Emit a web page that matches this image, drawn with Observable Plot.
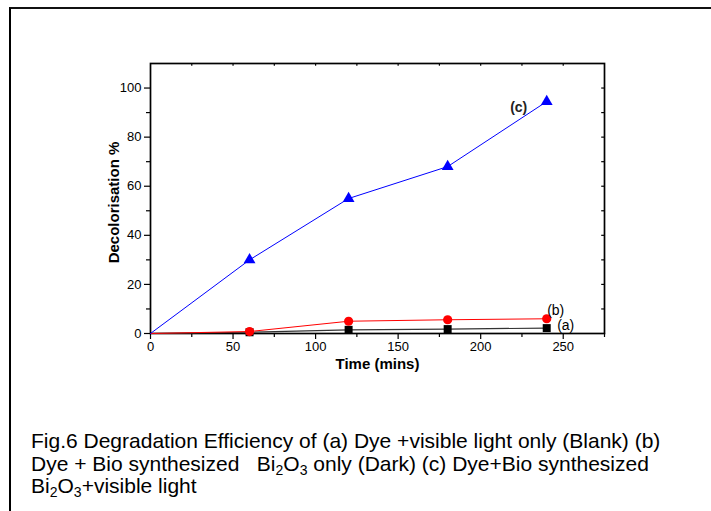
<!DOCTYPE html>
<html>
<head>
<meta charset="utf-8">
<script src="https://cdn.jsdelivr.net/npm/d3@7"></script>
<script src="https://cdn.jsdelivr.net/npm/@observablehq/plot@0.6"></script>
<style>
  html, body { margin: 0; padding: 0; background: #fff; }
  #wrap { position: relative; width: 711px; height: 511px; overflow: hidden; font-family: "Liberation Sans", Arial, sans-serif; }
  #border { position: absolute; left: 9px; top: 7px; width: 720px; height: 520px; border-left: 2px solid #000; border-top: 2px solid #111; }
  #caption { position: absolute; left: 31px; top: 430px; font-size: 21px; line-height: 22.5px; white-space: nowrap; color: #000; }
  #caption .s { font-size: 14px; vertical-align: -4px; line-height: 0; }
  #chart { position: absolute; left: 0; top: 0; }
</style>
</head>
<body>
<div id="wrap">
  <div id="chart"></div>
  <div id="border"></div>
  <div id="caption">Fig.6 Degradation Efficiency of (a) Dye +visible light only (Blank) (b)<br>Dye + Bio synthesized&nbsp;&nbsp; Bi<span class="s">2</span>O<span class="s">3</span> only (Dark) (c) Dye+Bio synthesized<br>Bi<span class="s">2</span>O<span class="s">3</span>+visible light</div>
</div>
<script>
const times = [0, 60, 120, 180, 240];
const seriesA = [0, 0.5, 1.5, 1.8, 2.2];   // (a) Dye + visible light only (Blank)
const seriesB = [0, 0.8, 5.0, 5.6, 6.0];   // (b) Dye + Bi2O3 only (Dark)
const seriesC = [0, 30, 55, 68, 94.5];     // (c) Dye + Bi2O3 + visible light
const seriesLabels = ["(a)", "(b)", "(c)"];
const xMajor = [0, 50, 100, 150, 200, 250];
const xMinor = [25, 75, 125, 175, 225, 275];
const yMajor = [0, 20, 40, 60, 80, 100];
const yMinor = [10, 30, 50, 70, 90];
const topTicks = [25, 50, 75, 100, 125, 150, 175, 200, 225, 250];
const rightTicks = [10, 20, 30, 40, 50, 60, 70, 80, 90, 100];

const A = times.map((t, i) => ({t, v: seriesA[i]}));
const B = times.map((t, i) => ({t, v: seriesB[i]}));
const C = times.map((t, i) => ({t, v: seriesC[i]}));
const notZero = d => d.t > 0;

const chart = Plot.plot({
  width: 711,
  height: 511,
  marginLeft: 150,
  marginRight: 107,
  marginTop: 63,
  marginBottom: 178,
  style: {fontFamily: "'Liberation Sans', Arial, sans-serif", background: "transparent", color: "#000"},
  x: {domain: [0, 275]},
  y: {domain: [0, 110]},
  marks: [
    Plot.axisX({ticks: xMajor, tickSize: 6, tickPadding: 2, fontSize: 13, label: null, stroke: "#000", strokeWidth: 1.2, fill: "#000"}),
    Plot.axisX({ticks: xMinor, tickSize: 4, text: null, label: null, stroke: "#000", strokeWidth: 1.2}),
    Plot.axisY({ticks: yMajor, tickSize: 6, tickPadding: 3, fontSize: 13, label: null, stroke: "#000", strokeWidth: 1.2, fill: "#000"}),
    Plot.axisY({ticks: yMinor, tickSize: 4, text: null, label: null, stroke: "#000", strokeWidth: 1.2}),
    Plot.ruleX(topTicks, {x: d => d, y1: 110, y2: 108.9, stroke: "#000", strokeWidth: 1.2}),
    Plot.ruleY(rightTicks, {y: d => d, x1: 275, x2: 273.3, stroke: "#000", strokeWidth: 1.2}),
    Plot.frame({stroke: "#000", strokeWidth: 1.7}),
    Plot.line(A, {x: "t", y: "v", stroke: "#333", strokeWidth: 1.2}),
    Plot.dot(A.filter(notZero), {x: "t", y: "v", symbol: "square", r: 4.5, fill: "#000", stroke: "none"}),
    Plot.line(B, {x: "t", y: "v", stroke: "#ff0000", strokeWidth: 1}),
    Plot.dot(B.filter(notZero), {x: "t", y: "v", symbol: "circle", r: 4.6, fill: "#ff0000", stroke: "none"}),
    Plot.line(C, {x: "t", y: "v", stroke: "#0000ff", strokeWidth: 1}),
    Plot.dot(C.filter(notZero), {x: "t", y: "v", symbol: "triangle", r: 4.4, fill: "#0000ff", stroke: "none"}),
    Plot.text([A[4]], {x: "t", y: "v", text: () => seriesLabels[0], dx: 19, dy: -3, fontSize: 14, fill: "#000"}),
    Plot.text([B[4]], {x: "t", y: "v", text: () => seriesLabels[1], dx: 9, dy: -8, fontSize: 14, fill: "#000"}),
    Plot.text([C[4]], {x: "t", y: "v", text: () => seriesLabels[2], dx: -28, dy: 6, fontSize: 14, fontWeight: "bold", fill: "#222"}),
    Plot.text(["Time (mins)"], {frameAnchor: "bottom", dy: 35, fontSize: 15, fontWeight: "bold", fill: "#000"}),
    Plot.text(["Decolorisation %"], {frameAnchor: "left", textAnchor: "middle", rotate: -90, dx: -36, dy: 4, fontSize: 15, fontWeight: "bold", fill: "#000"})
  ]
});
document.getElementById("chart").appendChild(chart);
</script>
</body>
</html>
